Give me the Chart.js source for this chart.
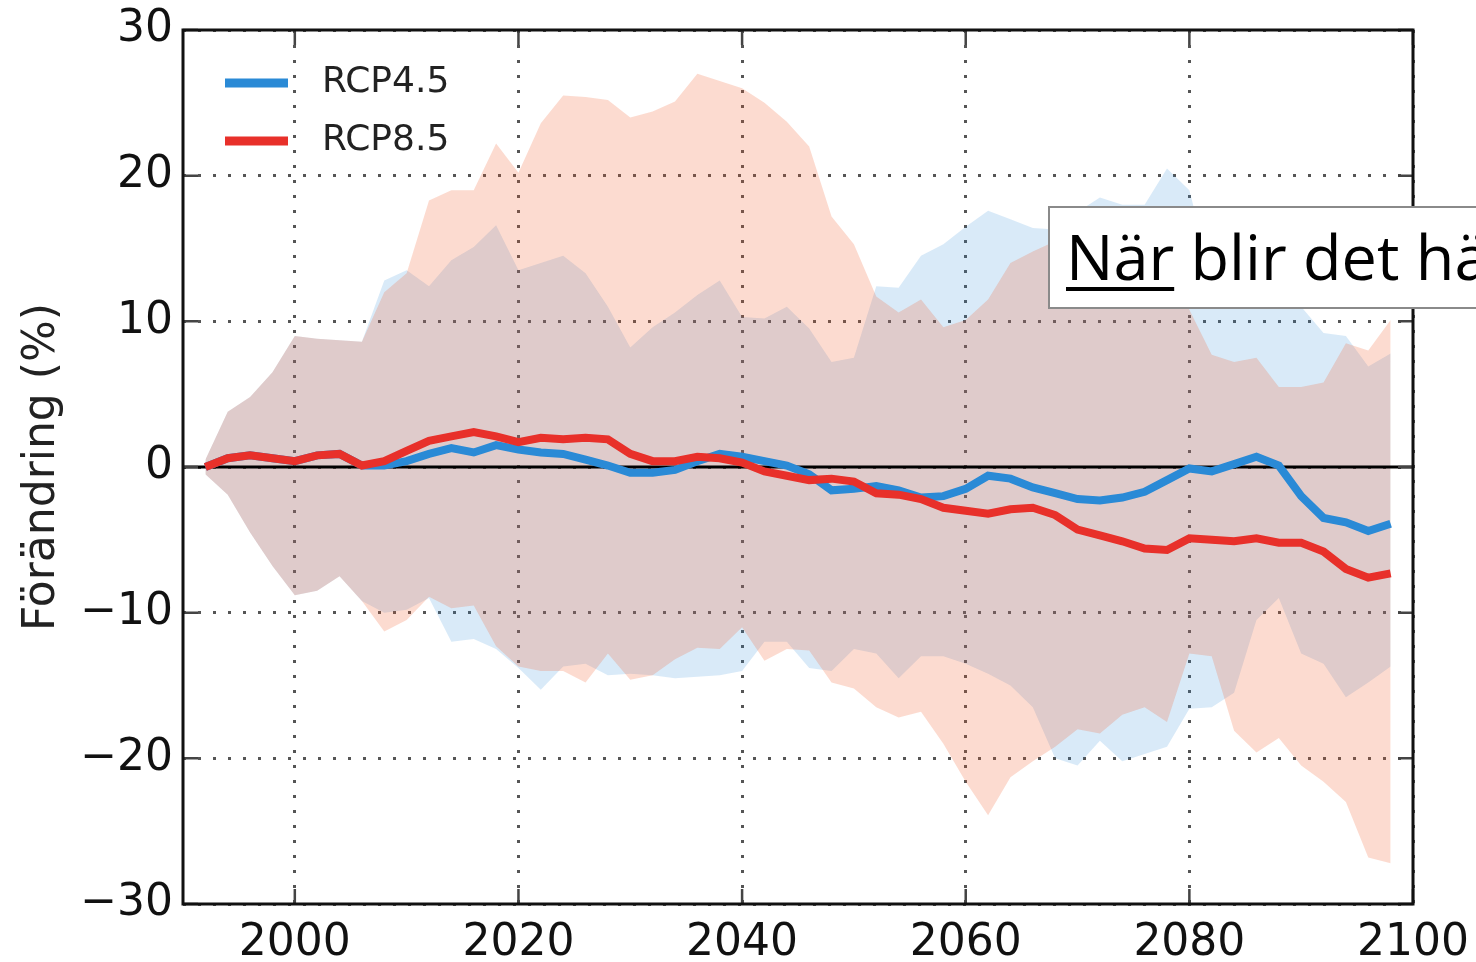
<!DOCTYPE html>
<html>
<head>
<meta charset="utf-8">
<script src="https://cdn.jsdelivr.net/npm/chart.js@4.4.1/dist/chart.umd.min.js"></script>
<style>
  html, body { margin: 0; padding: 0; background: #fff; }
  #wrap { width: 1476px; height: 962px; }
</style>
</head>
<body>
<div id="wrap"><canvas id="canvas1" width="1476" height="962"></canvas></div>
<script>
const canvas1 = document.getElementById('canvas1');

// years (every 2nd year, 30-yr running windows)
const years = [1992, 1994, 1996, 1998, 2000, 2002, 2004, 2006, 2008, 2010,
  2012, 2014, 2016, 2018, 2020, 2022, 2024, 2026, 2028, 2030,
  2032, 2034, 2036, 2038, 2040, 2042, 2044, 2046, 2048, 2050,
  2052, 2054, 2056, 2058, 2060, 2062, 2064, 2066, 2068, 2070,
  2072, 2074, 2076, 2078, 2080, 2082, 2084, 2086, 2088, 2090,
  2092, 2094, 2096, 2098];

const rcp45Mean = [0.0, 0.6, 0.8, 0.6, 0.4, 0.8, 0.9, 0.1, 0.1, 0.4,
  0.9, 1.3, 1.0, 1.5, 1.2, 1.0, 0.9, 0.5, 0.1, -0.4,
  -0.4, -0.2, 0.4, 0.9, 0.7, 0.4, 0.1, -0.5, -1.6, -1.5,
  -1.3, -1.6, -2.1, -2.0, -1.5, -0.6, -0.8, -1.4, -1.8, -2.2,
  -2.3, -2.1, -1.7, -0.9, -0.1, -0.3, 0.2, 0.7, 0.1, -2.0,
  -3.5, -3.8, -4.4, -3.9];

const rcp85Mean = [0.0, 0.6, 0.8, 0.6, 0.4, 0.8, 0.9, 0.1, 0.4, 1.1,
  1.8, 2.1, 2.4, 2.1, 1.7, 2.0, 1.9, 2.0, 1.9, 0.9,
  0.4, 0.4, 0.7, 0.6, 0.3, -0.3, -0.6, -0.9, -0.8, -1.0,
  -1.8, -1.9, -2.2, -2.8, -3.0, -3.2, -2.9, -2.8, -3.3, -4.3,
  -4.7, -5.1, -5.6, -5.7, -4.9, -5.0, -5.1, -4.9, -5.2, -5.2,
  -5.8, -7.0, -7.6, -7.3];

const rcp45Upper = [0.5, 3.8, 4.8, 6.5, 9.0, 8.8, 8.7, 8.6, 12.8, 13.5,
  12.4, 14.2, 15.1, 16.6, 13.5, 14.0, 14.5, 13.3, 11.0, 8.2,
  9.6, 10.6, 11.8, 12.8, 10.3, 10.2, 11.0, 9.5, 7.2, 7.5,
  12.4, 12.3, 14.5, 15.3, 16.5, 17.6, 17.0, 16.4, 16.3, 17.5,
  18.5, 18.0, 18.0, 20.5, 19.0, 13.0, 12.5, 12.0, 11.5, 11.0,
  9.2, 9.0, 6.9, 7.8];

const rcp45Lower = [-0.5, -1.9, -4.5, -6.8, -8.8, -8.5, -7.5, -9.2, -10.0, -9.8,
  -9.0, -12.0, -11.8, -12.5, -13.8, -15.3, -13.7, -13.5, -14.3, -14.2,
  -14.3, -14.5, -14.4, -14.3, -14.0, -12.0, -12.0, -13.8, -14.0, -12.5,
  -12.8, -14.5, -13.0, -13.0, -13.5, -14.2, -15.0, -16.5, -20.0, -20.5,
  -18.8, -20.2, -19.7, -19.2, -16.6, -16.5, -15.5, -10.5, -9.0, -12.8,
  -13.5, -15.8, -14.8, -13.7];

const rcp85Upper = [0.5, 3.8, 4.8, 6.5, 9.0, 8.8, 8.7, 8.6, 12.0, 13.3,
  18.3, 19.0, 19.0, 22.2, 20.2, 23.6, 25.5, 25.4, 25.2, 24.0,
  24.4, 25.1, 27.0, 26.5, 26.0, 25.0, 23.7, 22.0, 17.2, 15.3,
  11.7, 10.6, 11.5, 9.6, 10.1, 11.5, 14.0, 14.8, 15.5, 15.5,
  15.0, 15.0, 14.5, 13.5, 10.8, 7.7, 7.2, 7.5, 5.5, 5.5,
  5.8, 8.5, 8.0, 10.1];

const rcp85Lower = [-0.5, -1.9, -4.5, -6.8, -8.8, -8.5, -7.5, -9.2, -11.3, -10.5,
  -8.9, -9.7, -9.5, -12.3, -13.7, -14.0, -14.0, -14.8, -12.8, -14.6,
  -14.3, -13.2, -12.4, -12.5, -11.0, -13.3, -12.5, -12.6, -14.8, -15.2,
  -16.5, -17.2, -16.8, -19.0, -21.6, -23.9, -21.3, -20.2, -19.2, -18.0,
  -18.3, -17.0, -16.5, -17.5, -12.8, -13.0, -18.1, -19.6, -18.6, -20.5,
  -21.6, -23.0, -26.8, -27.2];

const xTicks = [2000, 2020, 2040, 2060, 2080, 2100];
const yTicks = [-30, -20, -10, 0, 10, 20, 30];

const BLUE = '#2a8ad6';
const RED = '#e8302a';
const pts = vals => years.map((yr, i) => ({ x: yr, y: vals[i] }));

const framePlugin = {
  id: 'frame',
  beforeDatasetDraw(chart, args) {
    // zero line goes under the two mean lines
    if (args.index !== 4) return;
    const { ctx, chartArea: a, scales: { y } } = chart;
    const y0 = y.getPixelForValue(0);
    ctx.save();
    ctx.strokeStyle = '#000';
    ctx.lineWidth = 3;
    ctx.beginPath();
    ctx.moveTo(a.left, y0);
    ctx.lineTo(a.right, y0);
    ctx.stroke();
    ctx.restore();
  },
  afterDraw(chart) {
    const { ctx, chartArea: a, scales: { x, y } } = chart;
    ctx.save();
    // inward tick marks
    ctx.strokeStyle = '#444';
    ctx.lineWidth = 2.5;
    ctx.beginPath();
    xTicks.forEach(v => {
      const px = x.getPixelForValue(v);
      ctx.moveTo(px, a.bottom); ctx.lineTo(px, a.bottom - 15);
      ctx.moveTo(px, a.top); ctx.lineTo(px, a.top + 15);
    });
    yTicks.forEach(v => {
      const py = y.getPixelForValue(v);
      ctx.moveTo(a.left, py); ctx.lineTo(a.left + 15, py);
      ctx.moveTo(a.right, py); ctx.lineTo(a.right - 15, py);
    });
    ctx.stroke();
    // axes box
    ctx.strokeStyle = '#111';
    ctx.lineWidth = 3;
    ctx.strokeRect(a.left, a.top, a.right - a.left, a.bottom - a.top);

    // legend, top left inside the axes
    ctx.font = '36px "DejaVu Sans"';
    ctx.textBaseline = 'middle';
    ctx.textAlign = 'left';
    chart.data.datasets.filter(d => d.label).forEach((d, i) => {
      const ly = a.top + 53 + i * 58;
      ctx.strokeStyle = d.borderColor;
      ctx.lineWidth = 9;
      ctx.beginPath();
      ctx.moveTo(a.left + 42, ly);
      ctx.lineTo(a.left + 105, ly);
      ctx.stroke();
      ctx.fillStyle = '#222';
      ctx.fillText(d.label, a.left + 139, ly);
    });

    // pasted text box from the slide
    ctx.fillStyle = '#fff';
    ctx.fillRect(1049, 207, 440, 101);
    ctx.strokeStyle = '#8a8a8a';
    ctx.lineWidth = 2;
    ctx.strokeRect(1049, 207, 440, 101);
    ctx.fillStyle = '#000';
    ctx.font = '63px "Open Sans"';
    ctx.textBaseline = 'alphabetic';
    ctx.fillText('När blir det hä', 1066, 280);
    const w = ctx.measureText('När').width;
    ctx.fillRect(1066, 287, w, 4);
    ctx.restore();
  }
};

new Chart(canvas1, {
  type: 'line',
  data: {
    datasets: [
      { label: '', data: pts(rcp45Upper), fill: 1, backgroundColor: 'rgba(44,140,214,0.18)',
        borderWidth: 0, pointRadius: 0, order: 5 },
      { label: '', data: pts(rcp45Lower), fill: false, borderWidth: 0, pointRadius: 0, order: 4 },
      { label: '', data: pts(rcp85Upper), fill: 3, backgroundColor: 'rgba(240,90,40,0.22)',
        borderWidth: 0, pointRadius: 0, order: 3 },
      { label: '', data: pts(rcp85Lower), fill: false, borderWidth: 0, pointRadius: 0, order: 2 },
      { label: 'RCP4.5', data: pts(rcp45Mean), fill: false, borderColor: BLUE,
        borderWidth: 8, pointRadius: 0, order: 1 },
      { label: 'RCP8.5', data: pts(rcp85Mean), fill: false, borderColor: RED,
        borderWidth: 8, pointRadius: 0, order: 0 }
    ]
  },
  options: {
    responsive: false,
    animation: false,
    devicePixelRatio: 1,
    layout: {
      padding: { top: 30, right: 63, bottom: 0, left: 0 }
    },
    scales: {
      x: {
        type: 'linear',
        min: 1990,
        max: 2100,
        afterFit: s => { s.height = 58; s.paddingLeft = 0; s.paddingRight = 0; },
        ticks: {
          stepSize: 20,
          includeBounds: false,
          padding: 13,
          color: '#111',
          font: { family: 'DejaVu Sans', size: 44 },
          callback: v => String(v)
        },
        grid: { color: '#555', lineWidth: 3, drawTicks: false },
        border: { display: false, dash: [3, 12] }
      },
      y: {
        min: -30,
        max: 30,
        afterFit: s => { s.width = 183; s.paddingTop = 0; s.paddingBottom = 0; },
        ticks: {
          stepSize: 10,
          padding: 10,
          color: '#111',
          font: { family: 'DejaVu Sans', size: 44 },
          callback: v => (v < 0 ? '\u2212' + Math.abs(v) : String(v))
        },
        grid: { color: '#555', lineWidth: 3, drawTicks: false },
        border: { display: false, dash: [3, 12] },
        title: {
          display: true,
          text: 'Förändring (%)',
          color: '#222',
          font: { family: 'DejaVu Sans', size: 44 },
          padding: { top: 16, bottom: 0 }
        }
      }
    },
    plugins: {
      legend: { display: false },
      tooltip: { enabled: false }
    }
  },
  plugins: [framePlugin]
});
</script>
</body>
</html>
